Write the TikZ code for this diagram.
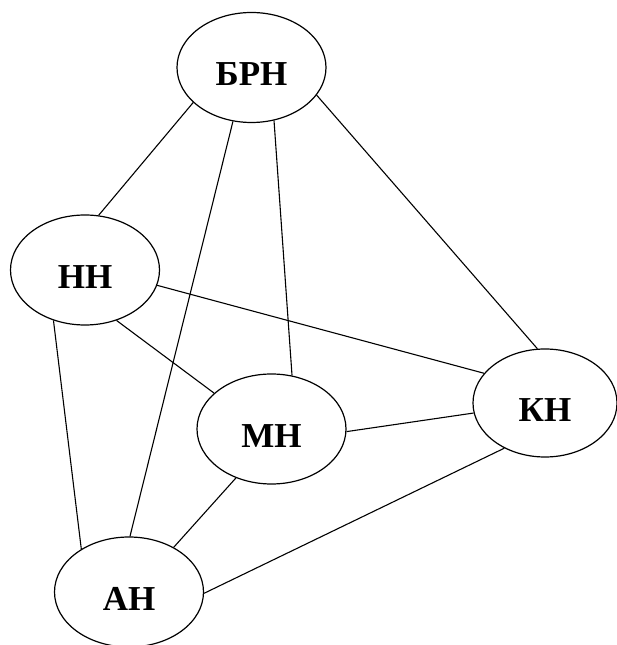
\documentclass[tikz,border=0pt]{standalone}
\usepackage{fontspec}
\setmainfont{Liberation Serif}
\usetikzlibrary{shapes.geometric}
\begin{document}
\begin{tikzpicture}[x=1pt,y=1pt,
  vert/.style={ellipse, draw, line width=1.2pt, minimum width=149pt, minimum height=110pt, inner sep=0pt,
    font=\fontsize{35}{35}\selectfont\bfseries, text height=37pt, text depth=0pt},
  edge/.style={line width=1.1pt}]
\useasboundingbox (0,0) rectangle (616,645);
\node[vert] (brn) at (251.5,577.5) {БРН};
\node[vert] (nn) at (85,375) {НН};
\node[vert] (mn) at (271.5,216) {МН};
\node[vert, minimum width=144pt, minimum height=108pt] (kn) at (545,242) {КН};
\node[vert] (an) at (129,53) {АН};
\draw[edge] (brn.211.2) -- (nn.76.9);
\draw[edge] (brn.337.4) -- (kn.98.3);
\draw[edge] (brn.293.7) -- (mn.69.8);
\draw[edge] (brn.251.3) -- (an.89);
\draw[edge] (nn.348.2) -- (kn.154.6);
\draw[edge] (nn.302.6) -- (mn.148);
\draw[edge] (nn.238) -- (an.138);
\draw[edge] (mn.358.4) -- (kn.188);
\draw[edge] (mn.234.8) -- (an.45.6);
\draw[edge] (an.359.2) -- (kn.228.2);
\end{tikzpicture}
\end{document}
